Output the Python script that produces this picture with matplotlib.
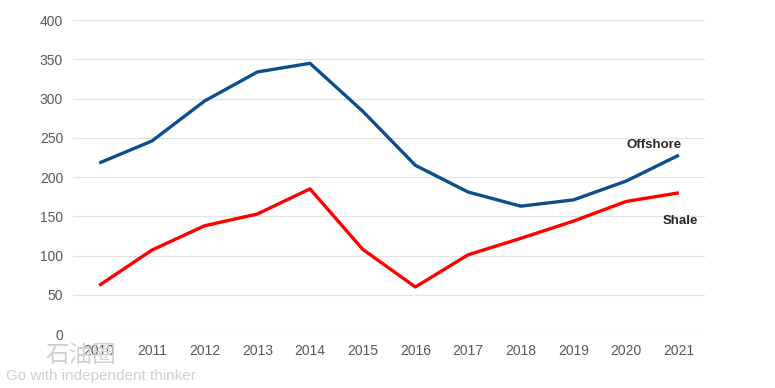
import matplotlib
matplotlib.use("Agg")
from matplotlib import pyplot as plt

years = [2010, 2011, 2012, 2013, 2014, 2015, 2016, 2017, 2018, 2019, 2020, 2021]
offshore = [218, 246, 297, 334, 345, 284, 215, 181, 163, 171, 195, 228]
shale = [62, 107, 138, 153, 185, 108, 60, 101, 122, 144, 169, 180]
yticks = [0, 50, 100, 150, 200, 250, 300, 350, 400]

plt.rcParams["font.family"] = ["Liberation Sans", "Noto Sans CJK SC", "DejaVu Sans"]

fig = plt.figure(figsize=(7.75, 3.88), dpi=100)
ax = fig.add_axes([0.094, 0.139, 0.816, 0.809])

# grid under lines
ax.set_axisbelow(True)
ax.grid(axis="y", color="#e3e3e3", lw=0.9)

ax.plot(years, offshore, color="#0d4f8b", lw=2.4, solid_capstyle="butt")
ax.plot(years, shale, color="#ff0000", lw=2.4, solid_capstyle="butt")

ax.set_xlim(2009.5, 2021.5)
ax.set_ylim(0, 400)
ax.set_xticks(years)
ax.set_yticks(yticks)
ax.tick_params(length=0, labelsize=10, colors="#595959")
ax.tick_params(axis="x", pad=7)
ax.tick_params(axis="y", pad=7)
for s in ax.spines.values():
    s.set_visible(False)

# series labels
ax.text(2020.53, 241, "Offshore", fontsize=9.5, fontweight="bold", color="#262626", ha="center", va="center")
ax.text(2021.03, 144, "Shale", fontsize=9.5, fontweight="bold", color="#262626", ha="center", va="center")

# watermark
fig.text(0.058, 0.085, "石油圈", fontsize=17, color="#d0d0d0", ha="left", va="center",
         family=["Noto Sans CJK SC", "DejaVu Sans"])
fig.text(0.008, 0.032, "Go with independent thinker", fontsize=11, color="#d0d0d0", ha="left", va="center")

fig.savefig("out.png", dpi=100)
